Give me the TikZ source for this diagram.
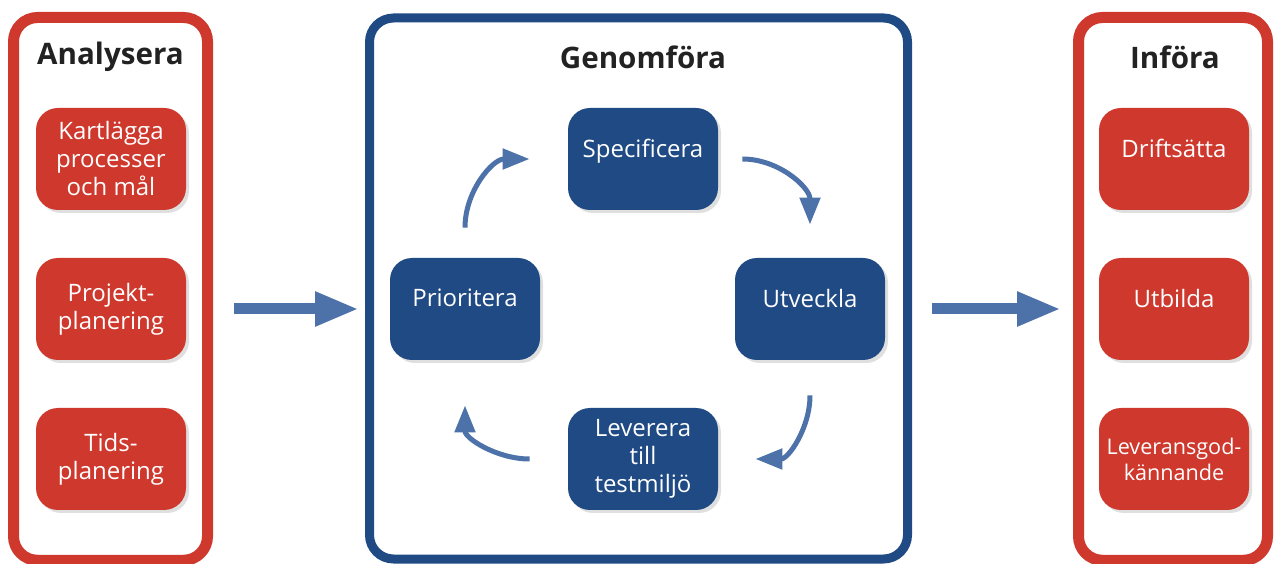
\documentclass[tikz,border=0pt]{standalone}
\usepackage{fontspec}
\setmainfont{Open Sans}
\usepackage{xcolor}
\usepackage{tikz}
\usetikzlibrary{positioning, arrows.meta, shadows}

\definecolor{rodfarg}{HTML}{CE382D}
\definecolor{blafarg}{HTML}{1F4A84}
\definecolor{pilfarg}{HTML}{4C72A9}
\definecolor{rubrik}{HTML}{222222}

\begin{document}
\begin{tikzpicture}[x=0.5pt,y=0.5pt]
						\tikzstyle{panel}=[rectangle,rounded corners=12pt,fill=white,inner sep=0pt]
						\tikzstyle{rubriktext}=[text=rubrik,font=\bfseries\fontsize{14.8}{17}\selectfont]
						\tikzstyle{ruta}=[rectangle,rounded corners=11pt,minimum width=75pt,minimum height=51pt,inner sep=2pt,text=white,align=center,font=\fontsize{12}{14}\selectfont,drop shadow={shadow xshift=1.5pt,shadow yshift=-1.5pt,opacity=0.25}]
						\tikzstyle{rod}=[ruta,fill=rodfarg]
						\tikzstyle{bla}=[ruta,fill=blafarg]
						\tikzstyle{enrad}=[text depth=11pt]
						\tikzstyle{tvarad}=[text depth=16pt]
						\tikzstyle{storpil}=[pilfarg,line width=5.5pt,-{Triangle[length=22pt,width=16pt]}]
						\tikzstyle{cykel}=[pilfarg,line width=2.5pt,-{Triangle[length=13.5pt,width=10pt]}]
						\useasboundingbox (0,0) rectangle (1276,563);
						\node[panel,draw=rodfarg,line width=5.5pt,minimum width=97pt,minimum height=271.4pt](ana) at (110.5,274.1) {};
						\node[panel,draw=blafarg,line width=4.5pt,minimum width=269pt,minimum height=270.5pt](gen) at (638.5,274.5) {};
						\node[panel,draw=rodfarg,line width=5.5pt,minimum width=94.5pt,minimum height=271.4pt](inf) at (1173,274.1) {};
						\node[rubriktext](anatitel) at (110.5,506) {Analysera};
						\node[rubriktext](gentitel) at (643,506) {Genomföra};
						\node[rubriktext](inftitel) at (1175,506) {Införa};
						\node[rod](kart) at (111,404) {Kartlägga\\processer\\och mål};
						\node[rod](proj) at (111,254) {Projekt-\\planering};
						\node[rod](tids) at (111,104) {Tids-\\planering};
						\node[bla,enrad](spe) at (643,404) {Specificera};
						\node[bla,enrad](pri) at (465,254) {Prioritera};
						\node[bla,enrad](utv) at (810,254) {Utveckla};
						\node[bla](lev) at (643,104) {Leverera\\till\\testmiljö};
						\node[rod,enrad](drift) at (1174,404) {Driftsätta};
						\node[rod,enrad](utb) at (1174,254) {Utbilda};
						\node[rod,font=\fontsize{10.8}{13}\selectfont](godk) at (1174,104) {Leveransgod-\\kännande};
						\path
							(ana.east |- pri) edge[storpil,shorten <=10.25pt,shorten >=3pt] (gen.west |- pri)
							(gen.east |- utv) edge[storpil,shorten <=9.75pt,shorten >=6pt] (inf.west |- utv);
						\path
							([yshift=15pt]pri.north) edge[cykel,out=90,in=180] ([xshift=-19pt]spe.west)
							([xshift=12pt]spe.east) edge[cykel,out=0,in=90] ([yshift=16.5pt]utv.north)
							([yshift=-17.5pt]utv.south) edge[cykel,out=-90,in=0] ([xshift=18.5pt]lev.east)
							([xshift=-19pt]lev.west) edge[cykel,out=180,in=-90] ([yshift=-22.5pt]pri.south);
					\end{tikzpicture}
\end{document}
